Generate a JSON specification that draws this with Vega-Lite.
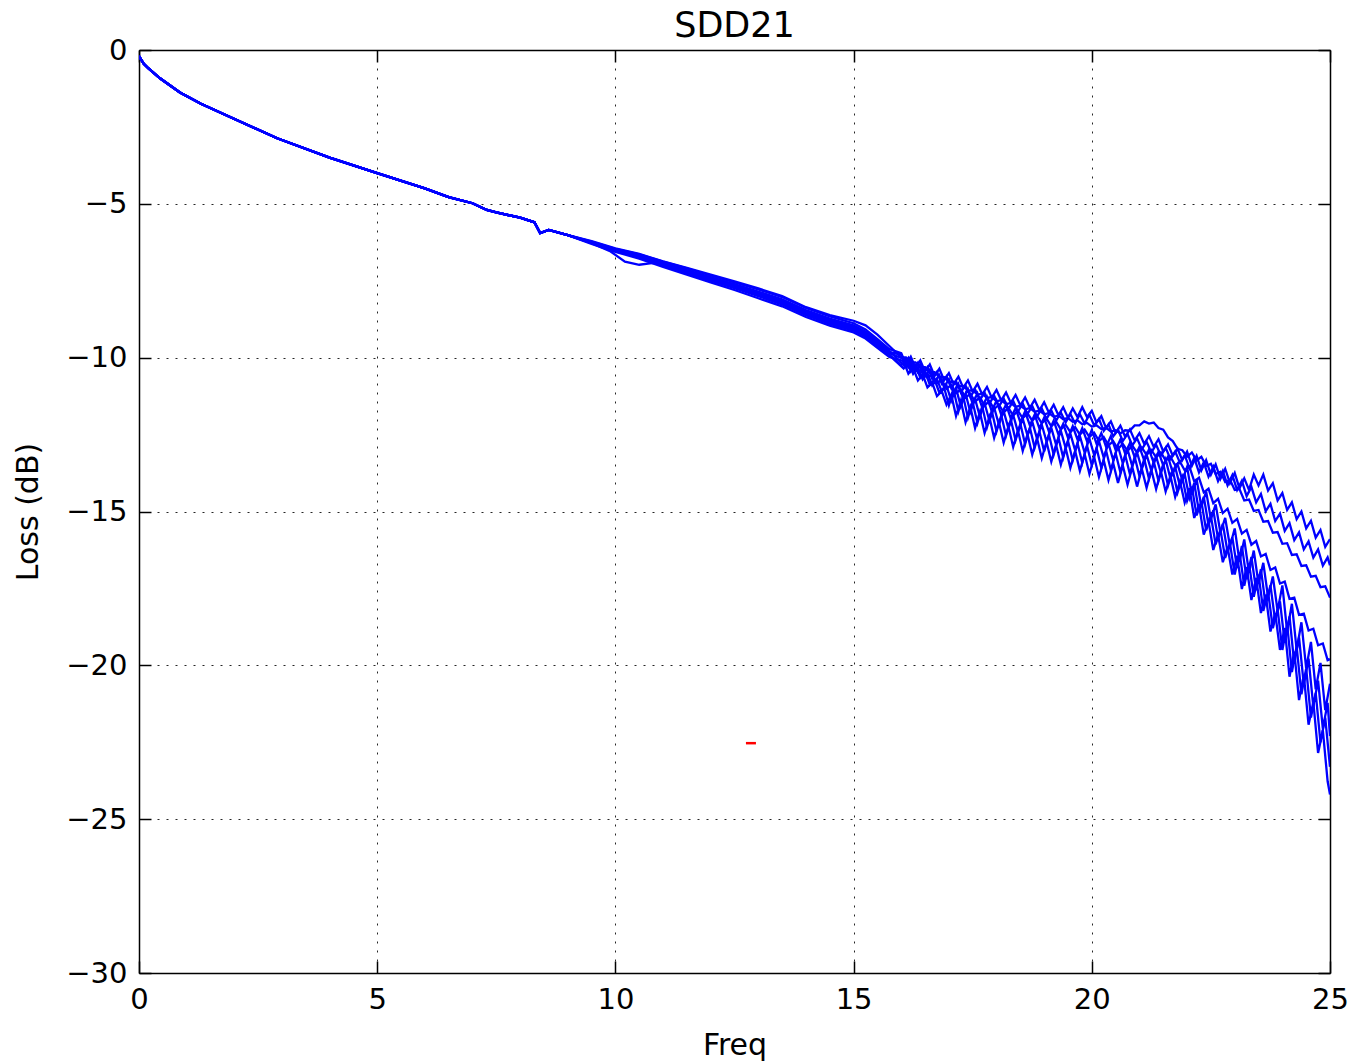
{
"$schema":"https://vega.github.io/schema/vega-lite/v6.json",
"width":1191,"height":923,
"autosize":{"type":"none"},
"padding":{"left":139,"top":50,"right":23,"bottom":91},
"background":"white",
"title":{"text":"SDD21","font":"DejaVu Sans","fontSize":35,"fontWeight":"normal","color":"black","offset":-8},
"config":{"view":{"stroke":null},
"axis":{"labelFont":"DejaVu Sans","labelFontSize":29,"labelColor":"black","titleFont":"DejaVu Sans","titleFontSize":30,"titleFontWeight":"normal","titleColor":"black","domainColor":"black","domainWidth":1.5,"tickColor":"black","tickWidth":1.5,"tickSize":-12,"labelFlush":false,"labelOverlap":false,"gridColor":"black","gridDash":[2,7],"gridWidth":1,"gridOpacity":0.85}},
"datasets":{
"marker":[{"f":12.74,"v":-22.53},{"f":12.95,"v":-22.53}],
"sdd21":[
{"s":1,"f":0,"v":-0.2},{"s":1,"f":0.1,"v":-0.45},{"s":1,"f":0.2,"v":-0.6},{"s":1,"f":0.44,"v":-0.92},{"s":1,"f":0.86,"v":-1.38},{"s":1,"f":1.3,"v":-1.75},{"s":1,"f":1.9,"v":-2.17},{"s":1,"f":2.9,"v":-2.87},{"s":1,"f":4,"v":-3.5},{"s":1,"f":5,"v":-4},{"s":1,"f":6,"v":-4.5},{"s":1,"f":6.5,"v":-4.78},{"s":1,"f":7,"v":-4.98},{"s":1,"f":7.3,"v":-5.2},{"s":1,"f":7.5,"v":-5.28},{"s":1,"f":8,"v":-5.45},{"s":1,"f":8.3,"v":-5.6},{"s":1,"f":8.42,"v":-5.95},{"s":1,"f":8.6,"v":-5.85},{"s":1,"f":9,"v":-6.02},
{"s":1,"f":9.5,"v":-6.23},{"s":1,"f":10,"v":-6.46},{"s":1,"f":10.5,"v":-6.64},{"s":1,"f":11,"v":-6.88},{"s":1,"f":11.5,"v":-7.1},{"s":1,"f":12,"v":-7.33},{"s":1,"f":12.5,"v":-7.55},{"s":1,"f":13,"v":-7.78},{"s":1,"f":13.5,"v":-8.03},{"s":1,"f":14,"v":-8.38},{"s":1,"f":14.5,"v":-8.66},{"s":1,"f":15,"v":-8.88},{"s":1,"f":15.25,"v":-9.08},{"s":1,"f":15.5,"v":-9.4},{"s":1,"f":15.75,"v":-9.72},
{"s":1,"f":16.0,"v":-9.85},{"s":1,"f":16.1,"v":-10.21},{"s":1,"f":16.2,"v":-9.97},{"s":1,"f":16.3,"v":-10.33},{"s":1,"f":16.4,"v":-10.09},{"s":1,"f":16.5,"v":-10.45},{"s":1,"f":16.6,"v":-10.22},{"s":1,"f":16.7,"v":-10.59},{"s":1,"f":16.8,"v":-10.36},{"s":1,"f":16.9,"v":-10.73},
{"s":1,"f":17.0,"v":-10.5},{"s":1,"f":17.1,"v":-10.86},{"s":1,"f":17.2,"v":-10.62},{"s":1,"f":17.3,"v":-10.98},{"s":1,"f":17.4,"v":-10.74},{"s":1,"f":17.5,"v":-11.1},{"s":1,"f":17.6,"v":-10.85},{"s":1,"f":17.7,"v":-11.2},{"s":1,"f":17.8,"v":-10.95},{"s":1,"f":17.9,"v":-11.3},
{"s":1,"f":18.0,"v":-11.05},{"s":1,"f":18.1,"v":-11.39},{"s":1,"f":18.2,"v":-11.13},{"s":1,"f":18.3,"v":-11.47},{"s":1,"f":18.4,"v":-11.21},{"s":1,"f":18.5,"v":-11.55},{"s":1,"f":18.6,"v":-11.29},{"s":1,"f":18.7,"v":-11.63},{"s":1,"f":18.8,"v":-11.37},{"s":1,"f":18.9,"v":-11.71},
{"s":1,"f":19.0,"v":-11.45},{"s":1,"f":19.1,"v":-11.79},{"s":1,"f":19.2,"v":-11.53},{"s":1,"f":19.3,"v":-11.87},{"s":1,"f":19.4,"v":-11.61},{"s":1,"f":19.5,"v":-11.95},{"s":1,"f":19.6,"v":-11.65},{"s":1,"f":19.7,"v":-11.93},{"s":1,"f":19.8,"v":-11.61},{"s":1,"f":19.9,"v":-11.93},
{"s":1,"f":20.0,"v":-11.73},{"s":1,"f":20.1,"v":-12.11},{"s":1,"f":20.2,"v":-11.9},{"s":1,"f":20.3,"v":-12.29},{"s":1,"f":20.4,"v":-12.07},{"s":1,"f":20.5,"v":-12.45},{"s":1,"f":20.6,"v":-12.21},{"s":1,"f":20.7,"v":-12.57},{"s":1,"f":20.8,"v":-12.33},{"s":1,"f":20.9,"v":-12.69},
{"s":1,"f":21.0,"v":-12.45},{"s":1,"f":21.1,"v":-12.8},{"s":1,"f":21.2,"v":-12.55},{"s":1,"f":21.3,"v":-12.9},{"s":1,"f":21.4,"v":-12.65},{"s":1,"f":21.5,"v":-13.05},{"s":1,"f":21.6,"v":-12.82},{"s":1,"f":21.7,"v":-13.19},{"s":1,"f":21.8,"v":-12.96},{"s":1,"f":21.9,"v":-13.33},
{"s":1,"f":22.0,"v":-13.05},{"s":1,"f":22.1,"v":-13.52},{"s":1,"f":22.2,"v":-13.19},{"s":1,"f":22.3,"v":-13.66},{"s":1,"f":22.4,"v":-13.33},{"s":1,"f":22.5,"v":-13.8},{"s":1,"f":22.6,"v":-13.47},{"s":1,"f":22.7,"v":-13.94},{"s":1,"f":22.8,"v":-13.61},{"s":1,"f":22.9,"v":-14.08},
{"s":1,"f":23.0,"v":-13.75},{"s":1,"f":23.1,"v":-14.25},{"s":1,"f":23.2,"v":-13.92},{"s":1,"f":23.3,"v":-14.3},{"s":1,"f":23.4,"v":-13.8},{"s":1,"f":23.5,"v":-14.15},{"s":1,"f":23.6,"v":-13.8},{"s":1,"f":23.7,"v":-14.32},{"s":1,"f":23.8,"v":-14.08},{"s":1,"f":23.9,"v":-14.64},
{"s":1,"f":24.0,"v":-14.4},{"s":1,"f":24.1,"v":-14.95},{"s":1,"f":24.2,"v":-14.7},{"s":1,"f":24.3,"v":-15.25},{"s":1,"f":24.4,"v":-15.0},{"s":1,"f":24.5,"v":-15.55},{"s":1,"f":24.6,"v":-15.3},{"s":1,"f":24.7,"v":-15.85},{"s":1,"f":24.8,"v":-15.6},{"s":1,"f":24.9,"v":-16.15},{"s":1,"f":25.0,"v":-15.9},

{"s":2,"f":0,"v":-0.2},{"s":2,"f":0.1,"v":-0.45},{"s":2,"f":0.2,"v":-0.6},{"s":2,"f":0.44,"v":-0.92},{"s":2,"f":0.86,"v":-1.38},{"s":2,"f":1.3,"v":-1.75},{"s":2,"f":1.9,"v":-2.17},{"s":2,"f":2.9,"v":-2.87},{"s":2,"f":4,"v":-3.5},{"s":2,"f":5,"v":-4},{"s":2,"f":6,"v":-4.5},{"s":2,"f":6.5,"v":-4.78},{"s":2,"f":7,"v":-4.98},{"s":2,"f":7.3,"v":-5.2},{"s":2,"f":7.5,"v":-5.28},{"s":2,"f":8,"v":-5.45},{"s":2,"f":8.3,"v":-5.6},{"s":2,"f":8.42,"v":-5.95},{"s":2,"f":8.6,"v":-5.85},{"s":2,"f":9,"v":-6.02},
{"s":2,"f":9.5,"v":-6.24},{"s":2,"f":10,"v":-6.48},{"s":2,"f":10.5,"v":-6.68},{"s":2,"f":11,"v":-6.92},{"s":2,"f":11.5,"v":-7.15},{"s":2,"f":12,"v":-7.38},{"s":2,"f":12.5,"v":-7.61},{"s":2,"f":13,"v":-7.85},{"s":2,"f":13.5,"v":-8.1},{"s":2,"f":14,"v":-8.45},{"s":2,"f":14.5,"v":-8.73},{"s":2,"f":15,"v":-8.95},{"s":2,"f":15.25,"v":-9.15},{"s":2,"f":15.5,"v":-9.46},{"s":2,"f":15.75,"v":-9.78},
{"s":2,"f":16.05,"v":-10.24},{"s":2,"f":16.15,"v":-10.01},{"s":2,"f":16.25,"v":-10.39},{"s":2,"f":16.35,"v":-10.16},{"s":2,"f":16.45,"v":-10.53},{"s":2,"f":16.55,"v":-10.31},{"s":2,"f":16.65,"v":-10.68},{"s":2,"f":16.75,"v":-10.46},{"s":2,"f":16.85,"v":-10.84},{"s":2,"f":16.95,"v":-10.61},
{"s":2,"f":17.05,"v":-10.99},{"s":2,"f":17.15,"v":-10.76},{"s":2,"f":17.25,"v":-11.13},{"s":2,"f":17.35,"v":-10.9},{"s":2,"f":17.45,"v":-11.27},{"s":2,"f":17.55,"v":-11.03},{"s":2,"f":17.65,"v":-11.38},{"s":2,"f":17.75,"v":-11.14},{"s":2,"f":17.85,"v":-11.49},{"s":2,"f":17.95,"v":-11.24},
{"s":2,"f":18.05,"v":-11.59},{"s":2,"f":18.15,"v":-11.33},{"s":2,"f":18.25,"v":-11.67},{"s":2,"f":18.35,"v":-11.41},{"s":2,"f":18.45,"v":-11.75},{"s":2,"f":18.55,"v":-11.49},{"s":2,"f":18.65,"v":-11.83},{"s":2,"f":18.75,"v":-11.57},{"s":2,"f":18.85,"v":-11.91},{"s":2,"f":18.95,"v":-11.65},
{"s":2,"f":19.05,"v":-11.99},{"s":2,"f":19.15,"v":-11.72},{"s":2,"f":19.25,"v":-12.05},{"s":2,"f":19.35,"v":-11.78},{"s":2,"f":19.45,"v":-12.11},{"s":2,"f":19.55,"v":-11.83},{"s":2,"f":19.65,"v":-12.14},{"s":2,"f":19.75,"v":-11.84},{"s":2,"f":19.85,"v":-12.14},{"s":2,"f":19.95,"v":-11.85},
{"s":2,"f":20.05,"v":-12.2},{"s":2,"f":20.15,"v":-11.99},{"s":2,"f":20.25,"v":-12.38},{"s":2,"f":20.35,"v":-12.17},{"s":2,"f":20.45,"v":-12.56},{"s":2,"f":20.55,"v":-12.34},{"s":2,"f":20.65,"v":-12.71},{"s":2,"f":20.75,"v":-12.48},{"s":2,"f":20.85,"v":-12.85},{"s":2,"f":20.95,"v":-12.62},
{"s":2,"f":21.05,"v":-12.98},{"s":2,"f":21.15,"v":-12.73},{"s":2,"f":21.25,"v":-13.08},{"s":2,"f":21.35,"v":-12.83},{"s":2,"f":21.45,"v":-13.18},{"s":2,"f":21.55,"v":-12.93},{"s":2,"f":21.65,"v":-13.29},{"s":2,"f":21.75,"v":-13.05},{"s":2,"f":21.85,"v":-13.41},{"s":2,"f":21.95,"v":-13.17},
{"s":2,"f":22.05,"v":-13.59},{"s":2,"f":22.15,"v":-13.26},{"s":2,"f":22.25,"v":-13.73},{"s":2,"f":22.35,"v":-13.4},{"s":2,"f":22.45,"v":-13.87},{"s":2,"f":22.55,"v":-13.54},{"s":2,"f":22.65,"v":-14.01},{"s":2,"f":22.75,"v":-13.68},{"s":2,"f":22.85,"v":-14.15},{"s":2,"f":22.95,"v":-13.82},
{"s":2,"f":23.05,"v":-14.3},{"s":2,"f":23.15,"v":-14.0},{"s":2,"f":23.25,"v":-14.5},{"s":2,"f":23.35,"v":-14.2},{"s":2,"f":23.45,"v":-14.7},{"s":2,"f":23.55,"v":-14.43},{"s":2,"f":23.65,"v":-14.99},{"s":2,"f":23.75,"v":-14.75},{"s":2,"f":23.85,"v":-15.31},{"s":2,"f":23.95,"v":-15.07},
{"s":2,"f":24.05,"v":-15.63},{"s":2,"f":24.15,"v":-15.38},{"s":2,"f":24.25,"v":-15.93},{"s":2,"f":24.35,"v":-15.68},{"s":2,"f":24.45,"v":-16.23},{"s":2,"f":24.55,"v":-15.97},{"s":2,"f":24.65,"v":-16.5},{"s":2,"f":24.75,"v":-16.23},{"s":2,"f":24.85,"v":-16.76},{"s":2,"f":24.95,"v":-16.49},{"s":2,"f":25.0,"v":-16.75},

{"s":3,"f":0,"v":-0.2},{"s":3,"f":0.1,"v":-0.45},{"s":3,"f":0.2,"v":-0.6},{"s":3,"f":0.44,"v":-0.92},{"s":3,"f":0.86,"v":-1.38},{"s":3,"f":1.3,"v":-1.75},{"s":3,"f":1.9,"v":-2.17},{"s":3,"f":2.9,"v":-2.87},{"s":3,"f":4,"v":-3.5},{"s":3,"f":5,"v":-4},{"s":3,"f":6,"v":-4.5},{"s":3,"f":6.5,"v":-4.78},{"s":3,"f":7,"v":-4.98},{"s":3,"f":7.3,"v":-5.2},{"s":3,"f":7.5,"v":-5.28},{"s":3,"f":8,"v":-5.45},{"s":3,"f":8.3,"v":-5.6},{"s":3,"f":8.42,"v":-5.95},{"s":3,"f":8.6,"v":-5.85},{"s":3,"f":9,"v":-6.02},
{"s":3,"f":9.5,"v":-6.21},{"s":3,"f":10,"v":-6.45},{"s":3,"f":10.5,"v":-6.63},{"s":3,"f":11,"v":-6.87},{"s":3,"f":11.5,"v":-7.08},{"s":3,"f":12,"v":-7.3},{"s":3,"f":12.5,"v":-7.52},{"s":3,"f":13,"v":-7.75},{"s":3,"f":13.5,"v":-8.0},{"s":3,"f":14,"v":-8.36},{"s":3,"f":14.5,"v":-8.62},{"s":3,"f":15,"v":-8.8},{"s":3,"f":15.25,"v":-8.95},{"s":3,"f":15.5,"v":-9.25},{"s":3,"f":15.75,"v":-9.62},
{"s":3,"f":16.0,"v":-9.99},{"s":3,"f":16.1,"v":-9.99},{"s":3,"f":16.2,"v":-10.15},{"s":3,"f":16.3,"v":-10.15},{"s":3,"f":16.4,"v":-10.31},{"s":3,"f":16.5,"v":-10.31},{"s":3,"f":16.6,"v":-10.47},{"s":3,"f":16.7,"v":-10.47},{"s":3,"f":16.8,"v":-10.63},{"s":3,"f":16.9,"v":-10.63},
{"s":3,"f":17.0,"v":-10.79},{"s":3,"f":17.1,"v":-10.78},{"s":3,"f":17.2,"v":-10.93},{"s":3,"f":17.3,"v":-10.92},{"s":3,"f":17.4,"v":-11.07},{"s":3,"f":17.5,"v":-11.06},{"s":3,"f":17.6,"v":-11.2},{"s":3,"f":17.7,"v":-11.17},{"s":3,"f":17.8,"v":-11.31},{"s":3,"f":17.9,"v":-11.28},
{"s":3,"f":18.0,"v":-11.42},{"s":3,"f":18.1,"v":-11.38},{"s":3,"f":18.2,"v":-11.51},{"s":3,"f":18.3,"v":-11.47},{"s":3,"f":18.4,"v":-11.6},{"s":3,"f":18.5,"v":-11.56},{"s":3,"f":18.6,"v":-11.68},{"s":3,"f":18.7,"v":-11.64},{"s":3,"f":18.8,"v":-11.76},{"s":3,"f":18.9,"v":-11.72},
{"s":3,"f":19.0,"v":-11.84},{"s":3,"f":19.1,"v":-11.8},{"s":3,"f":19.2,"v":-11.92},{"s":3,"f":19.3,"v":-11.88},{"s":3,"f":19.4,"v":-12.0},{"s":3,"f":19.5,"v":-11.96},{"s":3,"f":19.6,"v":-12.08},{"s":3,"f":19.7,"v":-12.04},{"s":3,"f":19.8,"v":-12.16},{"s":3,"f":19.9,"v":-12.12},
{"s":3,"f":20.0,"v":-12.24},{"s":3,"f":20.1,"v":-12.2},{"s":3,"f":20.2,"v":-12.32},{"s":3,"f":20.3,"v":-12.28},{"s":3,"f":20.4,"v":-12.4},{"s":3,"f":20.5,"v":-12.36},{"s":3,"f":20.6,"v":-12.46},{"s":3,"f":20.7,"v":-12.36},{"s":3,"f":20.8,"v":-12.37},{"s":3,"f":20.9,"v":-12.2},
{"s":3,"f":21.0,"v":-12.2},{"s":3,"f":21.1,"v":-12.07},{"s":3,"f":21.2,"v":-12.14},{"s":3,"f":21.3,"v":-12.11},{"s":3,"f":21.4,"v":-12.29},{"s":3,"f":21.5,"v":-12.34},{"s":3,"f":21.6,"v":-12.59},{"s":3,"f":21.7,"v":-12.71},{"s":3,"f":21.8,"v":-12.96},{"s":3,"f":21.9,"v":-13.01},
{"s":3,"f":22.0,"v":-13.22},{"s":3,"f":22.1,"v":-13.08},{"s":3,"f":22.2,"v":-13.34},{"s":3,"f":22.3,"v":-13.22},{"s":3,"f":22.4,"v":-13.52},{"s":3,"f":22.5,"v":-13.45},{"s":3,"f":22.6,"v":-13.78},{"s":3,"f":22.7,"v":-13.71},{"s":3,"f":22.8,"v":-14.04},{"s":3,"f":22.9,"v":-13.97},
{"s":3,"f":23.0,"v":-14.3},{"s":3,"f":23.1,"v":-14.27},{"s":3,"f":23.2,"v":-14.64},{"s":3,"f":23.3,"v":-14.61},{"s":3,"f":23.4,"v":-14.98},{"s":3,"f":23.5,"v":-14.95},{"s":3,"f":23.6,"v":-15.33},{"s":3,"f":23.7,"v":-15.31},{"s":3,"f":23.8,"v":-15.69},{"s":3,"f":23.9,"v":-15.67},
{"s":3,"f":24.0,"v":-16.05},{"s":3,"f":24.1,"v":-16.03},{"s":3,"f":24.2,"v":-16.41},{"s":3,"f":24.3,"v":-16.39},{"s":3,"f":24.4,"v":-16.77},{"s":3,"f":24.5,"v":-16.75},{"s":3,"f":24.6,"v":-17.12},{"s":3,"f":24.7,"v":-17.09},{"s":3,"f":24.8,"v":-17.46},{"s":3,"f":24.9,"v":-17.43},{"s":3,"f":25.0,"v":-17.8},

{"s":4,"f":0,"v":-0.2},{"s":4,"f":0.1,"v":-0.45},{"s":4,"f":0.2,"v":-0.6},{"s":4,"f":0.44,"v":-0.92},{"s":4,"f":0.86,"v":-1.38},{"s":4,"f":1.3,"v":-1.75},{"s":4,"f":1.9,"v":-2.17},{"s":4,"f":2.9,"v":-2.87},{"s":4,"f":4,"v":-3.5},{"s":4,"f":5,"v":-4},{"s":4,"f":6,"v":-4.5},{"s":4,"f":6.5,"v":-4.78},{"s":4,"f":7,"v":-4.98},{"s":4,"f":7.3,"v":-5.2},{"s":4,"f":7.5,"v":-5.28},{"s":4,"f":8,"v":-5.45},{"s":4,"f":8.3,"v":-5.6},{"s":4,"f":8.42,"v":-5.95},{"s":4,"f":8.6,"v":-5.85},{"s":4,"f":9,"v":-6.02},
{"s":4,"f":9.5,"v":-6.27},{"s":4,"f":10,"v":-6.52},{"s":4,"f":10.5,"v":-6.72},{"s":4,"f":11,"v":-6.98},{"s":4,"f":11.5,"v":-7.22},{"s":4,"f":12,"v":-7.46},{"s":4,"f":12.5,"v":-7.7},{"s":4,"f":13,"v":-7.95},{"s":4,"f":13.5,"v":-8.2},{"s":4,"f":14,"v":-8.55},{"s":4,"f":14.5,"v":-8.83},{"s":4,"f":15,"v":-9.05},{"s":4,"f":15.25,"v":-9.25},{"s":4,"f":15.5,"v":-9.55},{"s":4,"f":15.75,"v":-9.85},
{"s":4,"f":16.05,"v":-10.04},{"s":4,"f":16.15,"v":-10.32},{"s":4,"f":16.25,"v":-10.2},{"s":4,"f":16.35,"v":-10.48},{"s":4,"f":16.45,"v":-10.36},{"s":4,"f":16.55,"v":-10.65},{"s":4,"f":16.65,"v":-10.54},{"s":4,"f":16.75,"v":-10.83},{"s":4,"f":16.85,"v":-10.72},{"s":4,"f":16.95,"v":-11.01},
{"s":4,"f":17.05,"v":-10.89},{"s":4,"f":17.15,"v":-11.16},{"s":4,"f":17.25,"v":-11.03},{"s":4,"f":17.35,"v":-11.3},{"s":4,"f":17.45,"v":-11.17},{"s":4,"f":17.55,"v":-11.43},{"s":4,"f":17.65,"v":-11.29},{"s":4,"f":17.75,"v":-11.55},{"s":4,"f":17.85,"v":-11.41},{"s":4,"f":17.95,"v":-11.67},
{"s":4,"f":18.05,"v":-11.53},{"s":4,"f":18.15,"v":-11.78},{"s":4,"f":18.25,"v":-11.63},{"s":4,"f":18.35,"v":-11.88},{"s":4,"f":18.45,"v":-11.73},{"s":4,"f":18.55,"v":-11.97},{"s":4,"f":18.65,"v":-11.81},{"s":4,"f":18.75,"v":-12.05},{"s":4,"f":18.85,"v":-11.89},{"s":4,"f":18.95,"v":-12.13},
{"s":4,"f":19.05,"v":-11.98},{"s":4,"f":19.15,"v":-12.23},{"s":4,"f":19.25,"v":-12.08},{"s":4,"f":19.35,"v":-12.33},{"s":4,"f":19.45,"v":-12.18},{"s":4,"f":19.55,"v":-12.42},{"s":4,"f":19.65,"v":-12.26},{"s":4,"f":19.75,"v":-12.5},{"s":4,"f":19.85,"v":-12.34},{"s":4,"f":19.95,"v":-12.58},
{"s":4,"f":20.05,"v":-12.44},{"s":4,"f":20.15,"v":-12.71},{"s":4,"f":20.25,"v":-12.58},{"s":4,"f":20.35,"v":-12.85},{"s":4,"f":20.45,"v":-12.72},{"s":4,"f":20.55,"v":-12.97},{"s":4,"f":20.65,"v":-12.8},{"s":4,"f":20.75,"v":-13.03},{"s":4,"f":20.85,"v":-12.86},{"s":4,"f":20.95,"v":-13.09},
{"s":4,"f":21.05,"v":-12.92},{"s":4,"f":21.15,"v":-13.16},{"s":4,"f":21.25,"v":-13.0},{"s":4,"f":21.35,"v":-13.24},{"s":4,"f":21.45,"v":-13.08},{"s":4,"f":21.55,"v":-13.34},{"s":4,"f":21.65,"v":-13.22},{"s":4,"f":21.75,"v":-13.5},{"s":4,"f":21.85,"v":-13.38},{"s":4,"f":21.95,"v":-13.66},
{"s":4,"f":22.05,"v":-13.54},{"s":4,"f":22.15,"v":-14.02},{"s":4,"f":22.25,"v":-13.9},{"s":4,"f":22.35,"v":-14.38},{"s":4,"f":22.45,"v":-14.26},{"s":4,"f":22.55,"v":-14.73},{"s":4,"f":22.65,"v":-14.59},{"s":4,"f":22.75,"v":-15.05},{"s":4,"f":22.85,"v":-14.91},{"s":4,"f":22.95,"v":-15.37},
{"s":4,"f":23.05,"v":-15.24},{"s":4,"f":23.15,"v":-15.72},{"s":4,"f":23.25,"v":-15.6},{"s":4,"f":23.35,"v":-16.08},{"s":4,"f":23.45,"v":-15.96},{"s":4,"f":23.55,"v":-16.46},{"s":4,"f":23.65,"v":-16.38},{"s":4,"f":23.75,"v":-16.9},{"s":4,"f":23.85,"v":-16.82},{"s":4,"f":23.95,"v":-17.34},
{"s":4,"f":24.05,"v":-17.28},{"s":4,"f":24.15,"v":-17.84},{"s":4,"f":24.25,"v":-17.8},{"s":4,"f":24.35,"v":-18.36},{"s":4,"f":24.45,"v":-18.32},{"s":4,"f":24.55,"v":-18.87},{"s":4,"f":24.65,"v":-18.81},{"s":4,"f":24.75,"v":-19.35},{"s":4,"f":24.85,"v":-19.29},{"s":4,"f":24.95,"v":-19.83},{"s":4,"f":25.0,"v":-19.8},

{"s":5,"f":0,"v":-0.2},{"s":5,"f":0.1,"v":-0.45},{"s":5,"f":0.2,"v":-0.6},{"s":5,"f":0.44,"v":-0.92},{"s":5,"f":0.86,"v":-1.38},{"s":5,"f":1.3,"v":-1.75},{"s":5,"f":1.9,"v":-2.17},{"s":5,"f":2.9,"v":-2.87},{"s":5,"f":4,"v":-3.5},{"s":5,"f":5,"v":-4},{"s":5,"f":6,"v":-4.5},{"s":5,"f":6.5,"v":-4.78},{"s":5,"f":7,"v":-4.98},{"s":5,"f":7.3,"v":-5.2},{"s":5,"f":7.5,"v":-5.28},{"s":5,"f":8,"v":-5.45},{"s":5,"f":8.3,"v":-5.6},{"s":5,"f":8.42,"v":-5.95},{"s":5,"f":8.6,"v":-5.85},{"s":5,"f":9,"v":-6.02},
{"s":5,"f":9.5,"v":-6.25},{"s":5,"f":10,"v":-6.5},{"s":5,"f":10.5,"v":-6.7},{"s":5,"f":11,"v":-6.95},{"s":5,"f":11.5,"v":-7.18},{"s":5,"f":12,"v":-7.42},{"s":5,"f":12.5,"v":-7.65},{"s":5,"f":13,"v":-7.9},{"s":5,"f":13.5,"v":-8.15},{"s":5,"f":14,"v":-8.5},{"s":5,"f":14.5,"v":-8.78},{"s":5,"f":15,"v":-9.0},{"s":5,"f":15.25,"v":-9.2},{"s":5,"f":15.5,"v":-9.5},{"s":5,"f":15.75,"v":-9.82},
{"s":5,"f":16.0,"v":-9.9},{"s":5,"f":16.1,"v":-10.28},{"s":5,"f":16.2,"v":-10.06},{"s":5,"f":16.3,"v":-10.44},{"s":5,"f":16.4,"v":-10.22},{"s":5,"f":16.5,"v":-10.6},{"s":5,"f":16.6,"v":-10.39},{"s":5,"f":16.7,"v":-10.78},{"s":5,"f":16.8,"v":-10.57},{"s":5,"f":16.9,"v":-10.96},
{"s":5,"f":17.0,"v":-10.7},{"s":5,"f":17.1,"v":-11.18},{"s":5,"f":17.2,"v":-10.86},{"s":5,"f":17.3,"v":-11.34},{"s":5,"f":17.4,"v":-11.02},{"s":5,"f":17.5,"v":-11.5},{"s":5,"f":17.6,"v":-11.16},{"s":5,"f":17.7,"v":-11.62},{"s":5,"f":17.8,"v":-11.28},{"s":5,"f":17.9,"v":-11.74},
{"s":5,"f":18.0,"v":-11.4},{"s":5,"f":18.1,"v":-11.86},{"s":5,"f":18.2,"v":-11.52},{"s":5,"f":18.3,"v":-11.98},{"s":5,"f":18.4,"v":-11.64},{"s":5,"f":18.5,"v":-12.1},{"s":5,"f":18.6,"v":-11.75},{"s":5,"f":18.7,"v":-12.2},{"s":5,"f":18.8,"v":-11.85},{"s":5,"f":18.9,"v":-12.3},
{"s":5,"f":19.0,"v":-11.95},{"s":5,"f":19.1,"v":-12.4},{"s":5,"f":19.2,"v":-12.05},{"s":5,"f":19.3,"v":-12.5},{"s":5,"f":19.4,"v":-12.15},{"s":5,"f":19.5,"v":-12.6},{"s":5,"f":19.6,"v":-12.23},{"s":5,"f":19.7,"v":-12.66},{"s":5,"f":19.8,"v":-12.29},{"s":5,"f":19.9,"v":-12.72},
{"s":5,"f":20.0,"v":-12.35},{"s":5,"f":20.1,"v":-12.8},{"s":5,"f":20.2,"v":-12.45},{"s":5,"f":20.3,"v":-12.9},{"s":5,"f":20.4,"v":-12.55},{"s":5,"f":20.5,"v":-13.0},{"s":5,"f":20.6,"v":-12.66},{"s":5,"f":20.7,"v":-13.12},{"s":5,"f":20.8,"v":-12.78},{"s":5,"f":20.9,"v":-13.24},
{"s":5,"f":21.0,"v":-12.9},{"s":5,"f":21.1,"v":-13.34},{"s":5,"f":21.2,"v":-12.98},{"s":5,"f":21.3,"v":-13.42},{"s":5,"f":21.4,"v":-13.06},{"s":5,"f":21.5,"v":-13.5},{"s":5,"f":21.6,"v":-13.22},{"s":5,"f":21.7,"v":-13.74},{"s":5,"f":21.8,"v":-13.46},{"s":5,"f":21.9,"v":-13.98},
{"s":5,"f":22.0,"v":-13.55},{"s":5,"f":22.1,"v":-14.45},{"s":5,"f":22.2,"v":-13.95},{"s":5,"f":22.3,"v":-14.85},{"s":5,"f":22.4,"v":-14.35},{"s":5,"f":22.5,"v":-15.25},{"s":5,"f":22.6,"v":-14.77},{"s":5,"f":22.7,"v":-15.69},{"s":5,"f":22.8,"v":-15.21},{"s":5,"f":22.9,"v":-16.13},
{"s":5,"f":23.0,"v":-15.55},{"s":5,"f":23.1,"v":-16.63},{"s":5,"f":23.2,"v":-15.91},{"s":5,"f":23.3,"v":-16.99},{"s":5,"f":23.4,"v":-16.27},{"s":5,"f":23.5,"v":-17.35},{"s":5,"f":23.6,"v":-16.67},{"s":5,"f":23.7,"v":-17.79},{"s":5,"f":23.8,"v":-17.11},{"s":5,"f":23.9,"v":-18.23},
{"s":5,"f":24.0,"v":-17.4},{"s":5,"f":24.1,"v":-18.9},{"s":5,"f":24.2,"v":-18.0},{"s":5,"f":24.3,"v":-19.5},{"s":5,"f":24.4,"v":-18.6},{"s":5,"f":24.5,"v":-20.1},{"s":5,"f":24.6,"v":-19.24},{"s":5,"f":24.7,"v":-20.78},{"s":5,"f":24.8,"v":-19.92},{"s":5,"f":24.9,"v":-21.46},{"s":5,"f":25.0,"v":-20.6},

{"s":6,"f":0,"v":-0.2},{"s":6,"f":0.1,"v":-0.45},{"s":6,"f":0.2,"v":-0.6},{"s":6,"f":0.44,"v":-0.92},{"s":6,"f":0.86,"v":-1.38},{"s":6,"f":1.3,"v":-1.75},{"s":6,"f":1.9,"v":-2.17},{"s":6,"f":2.9,"v":-2.87},{"s":6,"f":4,"v":-3.5},{"s":6,"f":5,"v":-4},{"s":6,"f":6,"v":-4.5},{"s":6,"f":6.5,"v":-4.78},{"s":6,"f":7,"v":-4.98},{"s":6,"f":7.3,"v":-5.2},{"s":6,"f":7.5,"v":-5.28},{"s":6,"f":8,"v":-5.45},{"s":6,"f":8.3,"v":-5.6},{"s":6,"f":8.42,"v":-5.95},{"s":6,"f":8.6,"v":-5.85},{"s":6,"f":9,"v":-6.02},
{"s":6,"f":9.5,"v":-6.28},{"s":6,"f":9.9,"v":-6.55},{"s":6,"f":10.2,"v":-6.88},{"s":6,"f":10.5,"v":-6.98},{"s":6,"f":10.8,"v":-6.92},{"s":6,"f":11,"v":-7.0},{"s":6,"f":11.5,"v":-7.26},{"s":6,"f":12,"v":-7.5},{"s":6,"f":12.5,"v":-7.74},{"s":6,"f":13,"v":-8.0},{"s":6,"f":13.5,"v":-8.27},{"s":6,"f":14,"v":-8.62},{"s":6,"f":14.5,"v":-8.9},{"s":6,"f":15,"v":-9.12},{"s":6,"f":15.25,"v":-9.32},{"s":6,"f":15.5,"v":-9.62},{"s":6,"f":15.75,"v":-9.92},
{"s":6,"f":16.05,"v":-10.35},{"s":6,"f":16.15,"v":-10.14},{"s":6,"f":16.25,"v":-10.53},{"s":6,"f":16.35,"v":-10.32},{"s":6,"f":16.45,"v":-10.71},{"s":6,"f":16.55,"v":-10.5},{"s":6,"f":16.65,"v":-10.9},{"s":6,"f":16.75,"v":-10.7},{"s":6,"f":16.85,"v":-11.1},{"s":6,"f":16.95,"v":-10.9},
{"s":6,"f":17.05,"v":-11.4},{"s":6,"f":17.15,"v":-10.99},{"s":6,"f":17.25,"v":-11.58},{"s":6,"f":17.35,"v":-11.17},{"s":6,"f":17.45,"v":-11.76},{"s":6,"f":17.55,"v":-11.34},{"s":6,"f":17.65,"v":-11.91},{"s":6,"f":17.75,"v":-11.48},{"s":6,"f":17.85,"v":-12.05},{"s":6,"f":17.95,"v":-11.62},
{"s":6,"f":18.05,"v":-12.18},{"s":6,"f":18.15,"v":-11.74},{"s":6,"f":18.25,"v":-12.3},{"s":6,"f":18.35,"v":-11.86},{"s":6,"f":18.45,"v":-12.42},{"s":6,"f":18.55,"v":-11.98},{"s":6,"f":18.65,"v":-12.53},{"s":6,"f":18.75,"v":-12.08},{"s":6,"f":18.85,"v":-12.63},{"s":6,"f":18.95,"v":-12.18},
{"s":6,"f":19.05,"v":-12.73},{"s":6,"f":19.15,"v":-12.28},{"s":6,"f":19.25,"v":-12.83},{"s":6,"f":19.35,"v":-12.38},{"s":6,"f":19.45,"v":-12.93},{"s":6,"f":19.55,"v":-12.47},{"s":6,"f":19.65,"v":-13.01},{"s":6,"f":19.75,"v":-12.55},{"s":6,"f":19.85,"v":-13.09},{"s":6,"f":19.95,"v":-12.63},
{"s":6,"f":20.05,"v":-13.17},{"s":6,"f":20.15,"v":-12.71},{"s":6,"f":20.25,"v":-13.25},{"s":6,"f":20.35,"v":-12.79},{"s":6,"f":20.45,"v":-13.33},{"s":6,"f":20.55,"v":-12.88},{"s":6,"f":20.65,"v":-13.43},{"s":6,"f":20.75,"v":-12.98},{"s":6,"f":20.85,"v":-13.53},{"s":6,"f":20.95,"v":-13.08},
{"s":6,"f":21.05,"v":-13.62},{"s":6,"f":21.15,"v":-13.15},{"s":6,"f":21.25,"v":-13.68},{"s":6,"f":21.35,"v":-13.21},{"s":6,"f":21.45,"v":-13.74},{"s":6,"f":21.55,"v":-13.31},{"s":6,"f":21.65,"v":-13.93},{"s":6,"f":21.75,"v":-13.55},{"s":6,"f":21.85,"v":-14.17},{"s":6,"f":21.95,"v":-13.79},
{"s":6,"f":22.05,"v":-14.56},{"s":6,"f":22.15,"v":-14.08},{"s":6,"f":22.25,"v":-15.0},{"s":6,"f":22.35,"v":-14.52},{"s":6,"f":22.45,"v":-15.44},{"s":6,"f":22.55,"v":-14.96},{"s":6,"f":22.65,"v":-15.88},{"s":6,"f":22.75,"v":-15.4},{"s":6,"f":22.85,"v":-16.32},{"s":6,"f":22.95,"v":-15.84},
{"s":6,"f":23.05,"v":-16.84},{"s":6,"f":23.15,"v":-16.12},{"s":6,"f":23.25,"v":-17.2},{"s":6,"f":23.35,"v":-16.48},{"s":6,"f":23.45,"v":-17.56},{"s":6,"f":23.55,"v":-16.88},{"s":6,"f":23.65,"v":-18.04},{"s":6,"f":23.75,"v":-17.4},{"s":6,"f":23.85,"v":-18.56},{"s":6,"f":23.95,"v":-17.92},
{"s":6,"f":24.05,"v":-19.27},{"s":6,"f":24.15,"v":-18.41},{"s":6,"f":24.25,"v":-19.95},{"s":6,"f":24.35,"v":-19.09},{"s":6,"f":24.45,"v":-20.63},{"s":6,"f":24.55,"v":-19.78},{"s":6,"f":24.65,"v":-21.34},{"s":6,"f":24.75,"v":-20.5},{"s":6,"f":24.85,"v":-22.06},{"s":6,"f":24.95,"v":-21.22},{"s":6,"f":25.0,"v":-22.3},

{"s":7,"f":0,"v":-0.2},{"s":7,"f":0.1,"v":-0.45},{"s":7,"f":0.2,"v":-0.6},{"s":7,"f":0.44,"v":-0.92},{"s":7,"f":0.86,"v":-1.38},{"s":7,"f":1.3,"v":-1.75},{"s":7,"f":1.9,"v":-2.17},{"s":7,"f":2.9,"v":-2.87},{"s":7,"f":4,"v":-3.5},{"s":7,"f":5,"v":-4},{"s":7,"f":6,"v":-4.5},{"s":7,"f":6.5,"v":-4.78},{"s":7,"f":7,"v":-4.98},{"s":7,"f":7.3,"v":-5.2},{"s":7,"f":7.5,"v":-5.28},{"s":7,"f":8,"v":-5.45},{"s":7,"f":8.3,"v":-5.6},{"s":7,"f":8.42,"v":-5.95},{"s":7,"f":8.6,"v":-5.85},{"s":7,"f":9,"v":-6.02},
{"s":7,"f":9.5,"v":-6.27},{"s":7,"f":10,"v":-6.53},{"s":7,"f":10.5,"v":-6.74},{"s":7,"f":11,"v":-7.0},{"s":7,"f":11.5,"v":-7.24},{"s":7,"f":12,"v":-7.48},{"s":7,"f":12.5,"v":-7.71},{"s":7,"f":13,"v":-7.97},{"s":7,"f":13.5,"v":-8.22},{"s":7,"f":14,"v":-8.57},{"s":7,"f":14.5,"v":-8.86},{"s":7,"f":15,"v":-9.08},{"s":7,"f":15.25,"v":-9.28},{"s":7,"f":15.5,"v":-9.58},{"s":7,"f":15.75,"v":-9.9},
{"s":7,"f":16.0,"v":-10.25},{"s":7,"f":16.1,"v":-10.05},{"s":7,"f":16.2,"v":-10.45},{"s":7,"f":16.3,"v":-10.25},{"s":7,"f":16.4,"v":-10.65},{"s":7,"f":16.5,"v":-10.45},{"s":7,"f":16.6,"v":-10.88},{"s":7,"f":16.7,"v":-10.71},{"s":7,"f":16.8,"v":-11.14},{"s":7,"f":16.9,"v":-10.97},
{"s":7,"f":17.0,"v":-11.55},{"s":7,"f":17.1,"v":-11.05},{"s":7,"f":17.2,"v":-11.75},{"s":7,"f":17.3,"v":-11.25},{"s":7,"f":17.4,"v":-11.95},{"s":7,"f":17.5,"v":-11.45},{"s":7,"f":17.6,"v":-12.12},{"s":7,"f":17.7,"v":-11.59},{"s":7,"f":17.8,"v":-12.26},{"s":7,"f":17.9,"v":-11.73},
{"s":7,"f":18.0,"v":-12.4},{"s":7,"f":18.1,"v":-11.87},{"s":7,"f":18.2,"v":-12.54},{"s":7,"f":18.3,"v":-12.01},{"s":7,"f":18.4,"v":-12.68},{"s":7,"f":18.5,"v":-12.15},{"s":7,"f":18.6,"v":-12.81},{"s":7,"f":18.7,"v":-12.27},{"s":7,"f":18.8,"v":-12.93},{"s":7,"f":18.9,"v":-12.39},
{"s":7,"f":19.0,"v":-13.05},{"s":7,"f":19.1,"v":-12.5},{"s":7,"f":19.2,"v":-13.15},{"s":7,"f":19.3,"v":-12.6},{"s":7,"f":19.4,"v":-13.25},{"s":7,"f":19.5,"v":-12.7},{"s":7,"f":19.6,"v":-13.34},{"s":7,"f":19.7,"v":-12.78},{"s":7,"f":19.8,"v":-13.42},{"s":7,"f":19.9,"v":-12.86},
{"s":7,"f":20.0,"v":-13.5},{"s":7,"f":20.1,"v":-12.94},{"s":7,"f":20.2,"v":-13.58},{"s":7,"f":20.3,"v":-13.02},{"s":7,"f":20.4,"v":-13.66},{"s":7,"f":20.5,"v":-13.1},{"s":7,"f":20.6,"v":-13.73},{"s":7,"f":20.7,"v":-13.16},{"s":7,"f":20.8,"v":-13.79},{"s":7,"f":20.9,"v":-13.22},
{"s":7,"f":21.0,"v":-13.85},{"s":7,"f":21.1,"v":-13.29},{"s":7,"f":21.2,"v":-13.93},{"s":7,"f":21.3,"v":-13.37},{"s":7,"f":21.4,"v":-14.01},{"s":7,"f":21.5,"v":-13.45},{"s":7,"f":21.6,"v":-14.16},{"s":7,"f":21.7,"v":-13.67},{"s":7,"f":21.8,"v":-14.38},{"s":7,"f":21.9,"v":-13.89},
{"s":7,"f":22.0,"v":-14.65},{"s":7,"f":22.1,"v":-14.19},{"s":7,"f":22.2,"v":-15.13},{"s":7,"f":22.3,"v":-14.67},{"s":7,"f":22.4,"v":-15.61},{"s":7,"f":22.5,"v":-15.15},{"s":7,"f":22.6,"v":-16.07},{"s":7,"f":22.7,"v":-15.59},{"s":7,"f":22.8,"v":-16.51},{"s":7,"f":22.9,"v":-16.03},
{"s":7,"f":23.0,"v":-17.05},{"s":7,"f":23.1,"v":-16.33},{"s":7,"f":23.2,"v":-17.41},{"s":7,"f":23.3,"v":-16.69},{"s":7,"f":23.4,"v":-17.77},{"s":7,"f":23.5,"v":-17.05},{"s":7,"f":23.6,"v":-18.23},{"s":7,"f":23.7,"v":-17.61},{"s":7,"f":23.8,"v":-18.79},{"s":7,"f":23.9,"v":-18.17},
{"s":7,"f":24.0,"v":-19.5},{"s":7,"f":24.1,"v":-18.66},{"s":7,"f":24.2,"v":-20.22},{"s":7,"f":24.3,"v":-19.38},{"s":7,"f":24.4,"v":-20.94},{"s":7,"f":24.5,"v":-20.1},{"s":7,"f":24.6,"v":-21.7},{"s":7,"f":24.7,"v":-20.9},{"s":7,"f":24.8,"v":-22.5},{"s":7,"f":24.9,"v":-21.7},{"s":7,"f":25.0,"v":-23.3},

{"s":8,"f":0,"v":-0.2},{"s":8,"f":0.1,"v":-0.45},{"s":8,"f":0.2,"v":-0.6},{"s":8,"f":0.44,"v":-0.92},{"s":8,"f":0.86,"v":-1.38},{"s":8,"f":1.3,"v":-1.75},{"s":8,"f":1.9,"v":-2.17},{"s":8,"f":2.9,"v":-2.87},{"s":8,"f":4,"v":-3.5},{"s":8,"f":5,"v":-4},{"s":8,"f":6,"v":-4.5},{"s":8,"f":6.5,"v":-4.78},{"s":8,"f":7,"v":-4.98},{"s":8,"f":7.3,"v":-5.2},{"s":8,"f":7.5,"v":-5.28},{"s":8,"f":8,"v":-5.45},{"s":8,"f":8.3,"v":-5.6},{"s":8,"f":8.42,"v":-5.95},{"s":8,"f":8.6,"v":-5.85},{"s":8,"f":9,"v":-6.02},
{"s":8,"f":9.5,"v":-6.3},{"s":8,"f":10,"v":-6.56},{"s":8,"f":10.5,"v":-6.78},{"s":8,"f":11,"v":-7.05},{"s":8,"f":11.5,"v":-7.3},{"s":8,"f":12,"v":-7.55},{"s":8,"f":12.5,"v":-7.8},{"s":8,"f":13,"v":-8.07},{"s":8,"f":13.5,"v":-8.33},{"s":8,"f":14,"v":-8.68},{"s":8,"f":14.5,"v":-8.96},{"s":8,"f":15,"v":-9.18},{"s":8,"f":15.25,"v":-9.38},{"s":8,"f":15.5,"v":-9.68},{"s":8,"f":15.75,"v":-9.98},
{"s":8,"f":16.05,"v":-10.11},{"s":8,"f":16.15,"v":-10.52},{"s":8,"f":16.25,"v":-10.33},{"s":8,"f":16.35,"v":-10.74},{"s":8,"f":16.45,"v":-10.55},{"s":8,"f":16.55,"v":-10.97},{"s":8,"f":16.65,"v":-10.81},{"s":8,"f":16.75,"v":-11.25},{"s":8,"f":16.85,"v":-11.09},{"s":8,"f":16.95,"v":-11.53},
{"s":8,"f":17.05,"v":-11.2},{"s":8,"f":17.15,"v":-11.9},{"s":8,"f":17.25,"v":-11.4},{"s":8,"f":17.35,"v":-12.1},{"s":8,"f":17.45,"v":-11.6},{"s":8,"f":17.55,"v":-12.29},{"s":8,"f":17.65,"v":-11.77},{"s":8,"f":17.75,"v":-12.45},{"s":8,"f":17.85,"v":-11.93},{"s":8,"f":17.95,"v":-12.61},
{"s":8,"f":18.05,"v":-12.09},{"s":8,"f":18.15,"v":-12.76},{"s":8,"f":18.25,"v":-12.23},{"s":8,"f":18.35,"v":-12.9},{"s":8,"f":18.45,"v":-12.37},{"s":8,"f":18.55,"v":-13.03},{"s":8,"f":18.65,"v":-12.49},{"s":8,"f":18.75,"v":-13.15},{"s":8,"f":18.85,"v":-12.61},{"s":8,"f":18.95,"v":-13.27},
{"s":8,"f":19.05,"v":-12.73},{"s":8,"f":19.15,"v":-13.38},{"s":8,"f":19.25,"v":-12.83},{"s":8,"f":19.35,"v":-13.48},{"s":8,"f":19.45,"v":-12.93},{"s":8,"f":19.55,"v":-13.58},{"s":8,"f":19.65,"v":-13.03},{"s":8,"f":19.75,"v":-13.68},{"s":8,"f":19.85,"v":-13.13},{"s":8,"f":19.95,"v":-13.78},
{"s":8,"f":20.05,"v":-13.23},{"s":8,"f":20.15,"v":-13.88},{"s":8,"f":20.25,"v":-13.33},{"s":8,"f":20.35,"v":-13.98},{"s":8,"f":20.45,"v":-13.43},{"s":8,"f":20.55,"v":-14.07},{"s":8,"f":20.65,"v":-13.5},{"s":8,"f":20.75,"v":-14.13},{"s":8,"f":20.85,"v":-13.56},{"s":8,"f":20.95,"v":-14.19},
{"s":8,"f":21.05,"v":-13.61},{"s":8,"f":21.15,"v":-14.23},{"s":8,"f":21.25,"v":-13.65},{"s":8,"f":21.35,"v":-14.27},{"s":8,"f":21.45,"v":-13.69},{"s":8,"f":21.55,"v":-14.35},{"s":8,"f":21.65,"v":-13.84},{"s":8,"f":21.75,"v":-14.53},{"s":8,"f":21.85,"v":-14.02},{"s":8,"f":21.95,"v":-14.71},
{"s":8,"f":22.05,"v":-14.24},{"s":8,"f":22.15,"v":-15.21},{"s":8,"f":22.25,"v":-14.78},{"s":8,"f":22.35,"v":-15.75},{"s":8,"f":22.45,"v":-15.32},{"s":8,"f":22.55,"v":-16.25},{"s":8,"f":22.65,"v":-15.75},{"s":8,"f":22.75,"v":-16.65},{"s":8,"f":22.85,"v":-16.15},{"s":8,"f":22.95,"v":-17.05},
{"s":8,"f":23.05,"v":-16.44},{"s":8,"f":23.15,"v":-17.52},{"s":8,"f":23.25,"v":-16.8},{"s":8,"f":23.35,"v":-17.88},{"s":8,"f":23.45,"v":-17.16},{"s":8,"f":23.55,"v":-18.3},{"s":8,"f":23.65,"v":-17.7},{"s":8,"f":23.75,"v":-18.9},{"s":8,"f":23.85,"v":-18.3},{"s":8,"f":23.95,"v":-19.5},
{"s":8,"f":24.05,"v":-18.79},{"s":8,"f":24.15,"v":-20.37},{"s":8,"f":24.25,"v":-19.55},{"s":8,"f":24.35,"v":-21.13},{"s":8,"f":24.45,"v":-20.31},{"s":8,"f":24.55,"v":-21.93},{"s":8,"f":24.65,"v":-21.19},{"s":8,"f":24.75,"v":-22.85},{"s":8,"f":24.85,"v":-22.11},{"s":8,"f":24.95,"v":-23.77},{"s":8,"f":25.0,"v":-24.2}
]},
"layer":[
{"data":{"name":"sdd21"},
 "mark":{"type":"line","color":"#0000ff","strokeWidth":2.3,"clip":true},
 "encoding":{
  "x":{"field":"f","type":"quantitative","scale":{"domain":[0,25],"nice":false,"zero":false},
       "axis":{"orient":"bottom","values":[0,5,10,15,20,25],"title":"Freq","grid":true,"labelPadding":24,"titlePadding":16}},
  "y":{"field":"v","type":"quantitative","scale":{"domain":[-30,0],"nice":false,"zero":false},
       "axis":{"orient":"left","values":[0,-5,-10,-15,-20,-25,-30],"title":"Loss (dB)","grid":true,"labelPadding":24,"titlePadding":22}},
  "detail":{"field":"s","type":"nominal"}}},
{"data":{"name":"marker"},
 "mark":{"type":"line","color":"#ff0000","strokeWidth":2.5},
 "encoding":{
  "x":{"field":"f","type":"quantitative","scale":{"domain":[0,25],"nice":false,"zero":false},
       "axis":{"orient":"top","values":[0,5,10,15,20,25],"labels":false,"title":null,"grid":false}},
  "y":{"field":"v","type":"quantitative","scale":{"domain":[-30,0],"nice":false,"zero":false},
       "axis":{"orient":"right","values":[0,-5,-10,-15,-20,-25,-30],"labels":false,"title":null,"grid":false}}}}
],
"resolve":{"axis":{"x":"independent","y":"independent"}}
}
